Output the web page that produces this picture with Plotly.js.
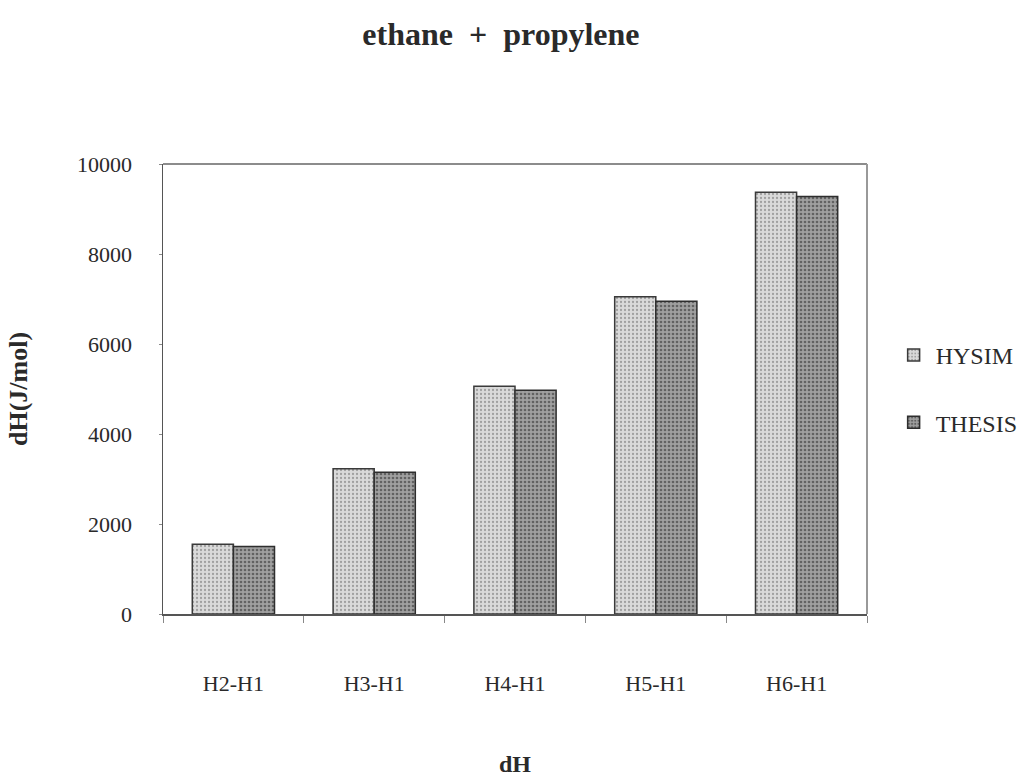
<!DOCTYPE html>
<html>
<head>
<meta charset="utf-8">
<script src="https://cdn.plot.ly/plotly-3.0.1.min.js"></script>
<style>
  html, body { margin: 0; padding: 0; background: #ffffff; }
  #chart { width: 1023px; height: 780px; }
</style>
</head>
<body>
<div id="chart"></div>
<script>
// Enthalpy differences for the ethane + propylene mixture
const categories = ["H2-H1", "H3-H1", "H4-H1", "H5-H1", "H6-H1"];
const hysimValues = [1550, 3230, 5060, 7050, 9370];
const thesisValues = [1500, 3150, 4970, 6950, 9280];
const yTickValues = [0, 2000, 4000, 6000, 8000, 10000];
const yTickLabels = ["0", "2000", "4000", "6000", "8000", "10000"];

const serif = "Liberation Serif, Times New Roman, serif";
const ink = "#2a2a2a";

const traces = [
  {
    type: "bar",
    name: "HYSIM",
    legendgroup: "a",
    x: categories,
    y: hysimValues,
    marker: {
      color: "#d4d4d4",
      line: { color: "#3a3a3a", width: 1.5 },
      pattern: { shape: ".", fgcolor: "#a0a0a0", bgcolor: "#dadada", size: 4, solidity: 0.25 }
    }
  },
  {
    type: "bar",
    name: "THESIS",
    legendgroup: "b",
    x: categories,
    y: thesisValues,
    marker: {
      color: "#8c8c8c",
      line: { color: "#2e2e2e", width: 1.5 },
      pattern: { shape: ".", fgcolor: "#626262", bgcolor: "#a0a0a0", size: 4, solidity: 0.35 }
    }
  }
];

const layout = {
  width: 1023,
  height: 780,
  margin: { l: 163, r: 156, t: 164, b: 166, autoexpand: false },
  paper_bgcolor: "#ffffff",
  plot_bgcolor: "#ffffff",
  barmode: "group",
  bargap: 0.416,
  bargroupgap: 0,
  font: { family: serif, color: ink, size: 20 },
  title: {
    text: "<b>ethane  +  propylene</b>",
    font: { family: serif, size: 32, color: ink },
    x: 0.48, xref: "paper", xanchor: "center",
    y: 0.957, yref: "container", yanchor: "middle"
  },
  xaxis: {
    type: "category",
    range: [-0.5, 4.5],
    showline: true,
    linecolor: "#555555",
    linewidth: 1.5,
    mirror: false,
    ticks: "outside",
    tickson: "boundaries",
    ticklen: 7,
    tickcolor: "#888888",
    tickfont: { family: serif, size: 22, color: ink },
    ticklabelstandoff: 49,
    showgrid: false,
    zeroline: false,
    automargin: false,
    title: {
      text: "<b>dH</b>",
      font: { family: serif, size: 24, color: ink },
      standoff: 60
    }
  },
  yaxis: {
    range: [0, 10000],
    tickvals: yTickValues,
    ticktext: yTickLabels,
    showline: true,
    linecolor: "#555555",
    linewidth: 1.5,
    ticks: "outside",
    ticklen: 3,
    tickcolor: "#888888",
    tickfont: { family: serif, size: 22, color: ink },
    ticklabelstandoff: 22,
    showgrid: false,
    zeroline: false,
    automargin: false,
    title: {
      text: "<b>dH(J/mol)</b>",
      font: { family: serif, size: 26, color: ink },
      standoff: 42
    }
  },
  shapes: [
    // frame on the top and right of the plotting area
    { type: "line", xref: "paper", yref: "paper", x0: 0, x1: 1, y0: 1, y1: 1,
      line: { color: "#666666", width: 1.5 } },
    { type: "line", xref: "paper", yref: "paper", x0: 1, x1: 1, y0: 0, y1: 1,
      line: { color: "#999999", width: 2 } }
  ],
  legend: {
    x: 1.035, xanchor: "left",
    y: 0.5, yanchor: "middle",
    font: { family: serif, size: 24, color: ink },
    traceorder: "grouped",
    tracegroupgap: 33,
    bgcolor: "rgba(255,255,255,0)",
    itemwidth: 34
  },
  showlegend: true
};

Plotly.newPlot("chart", traces, layout, { displayModeBar: false, staticPlot: true });
</script>
</body>
</html>
